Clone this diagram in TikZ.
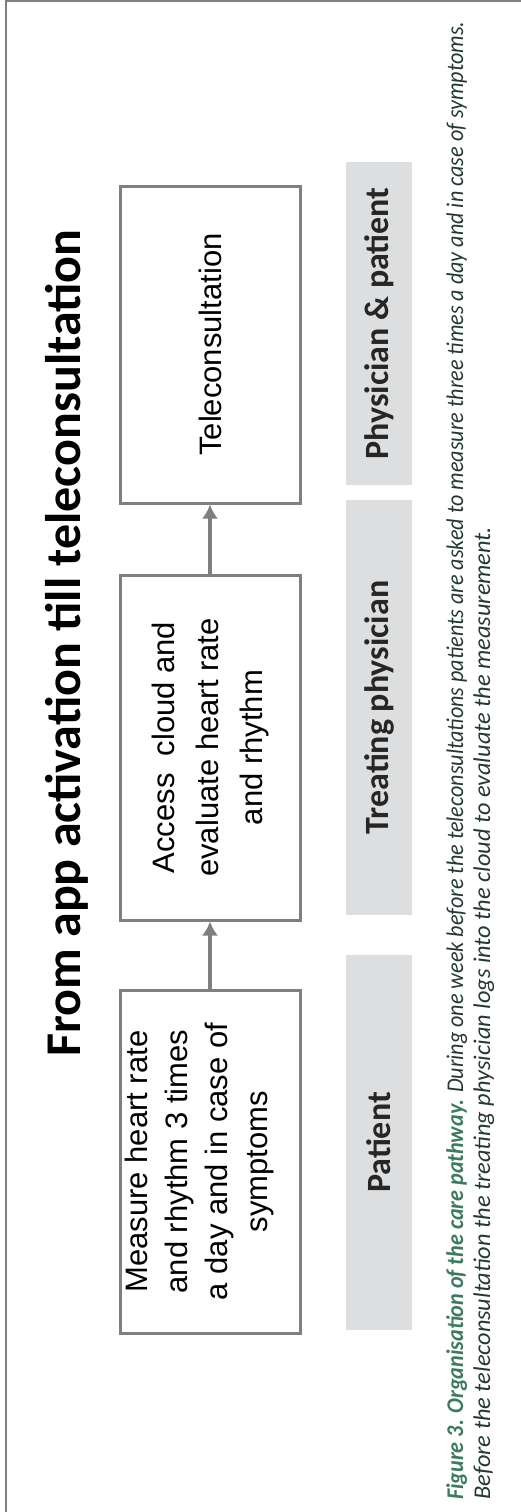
\documentclass[tikz,border=0pt]{standalone}
\usepackage{fontspec}
\setmainfont{Carlito}
\newfontfamily\boxfont{Liberation Sans}
\usepackage{graphicx}
\usetikzlibrary{arrows.meta}
\definecolor{framegray}{HTML}{808080}
\definecolor{boxgray}{HTML}{7F7F80}
\definecolor{bandgray}{HTML}{DDDEDF}
\definecolor{capgreen}{HTML}{3D7B5F}
\definecolor{captext}{HTML}{253A2F}

\begin{document}
\begin{tikzpicture}[x=1pt, y=1pt, >={Latex[length=14pt, width=16pt]},
	every node/.style={inner sep=0pt, rotate=90},
	stepbox/.style={draw=boxgray, line width=3pt, minimum height=180pt, align=center, font=\boxfont\fontsize{31}{44}\selectfont},
	roleband/.style={fill=bandgray, minimum height=66pt, text=black!85, font=\bfseries\fontsize{34}{40}\selectfont},
	captxt/.style={anchor=base west, text=captext, font=\itshape\fontsize{24}{28}\selectfont},
	flow/.style={->, boxgray, line width=4pt}]
	\useasboundingbox (0,0) rectangle (521,-1512);
	\draw[framegray, line width=1.5pt] (6,-1512) -- (6,-1) -- (521,-1);
	\node[font=\bfseries\fontsize{50}{54}\selectfont] (title) at (67,-643) {From app activation till teleconsultation};
	\node[stepbox, minimum width=317pt] (tele) at (210,-344.5) {Teleconsultation};
	\node[stepbox, minimum width=345pt] (access) at (210,-747.5) {Access\ \ cloud and\\evaluate heart rate\\and rhythm};
	\node[stepbox, minimum width=343pt, text depth=27pt, font=\boxfont\fontsize{31}{40}\selectfont] (measure) at (210,-1161.5) {Measure heart rate\\and rhythm 3 times\\a day and in case of\\symptoms};
	\draw[flow] (measure.east) -- (access.west);
	\draw[flow] (access.east) -- (tele.west);
	\node[roleband, minimum width=323pt] (pairband) at (379,-323.5) {Physician \& patient};
	\node[roleband, minimum width=415pt] (docband) at (379,-707.5) {Treating physician};
	\node[roleband, minimum width=375pt] (patband) at (379,-1142.5) {Patient};
	\node[captxt] (capone) at (463,-1500) {\resizebox{1478pt}{\height}{{\bfseries\color{capgreen}Figure 3. Organisation of the care pathway.} During one week before the teleconsultations patients are asked to measure three times a day and in case of symptoms.}};
	\node[captxt] (captwo) at (490,-1500) {\resizebox{973pt}{\height}{Before the teleconsultation the treating physician logs into the cloud to evaluate the measurement.}};
\end{tikzpicture}
\end{document}
